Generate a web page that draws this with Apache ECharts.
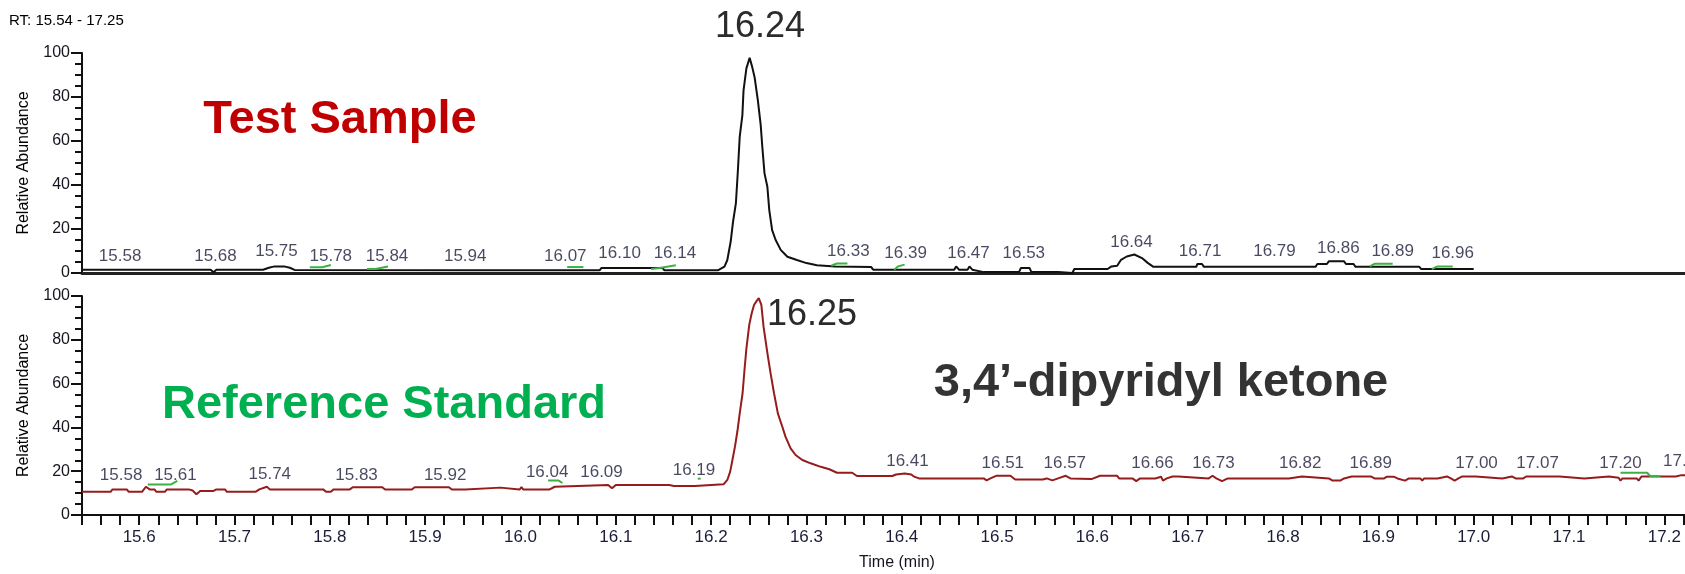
<!DOCTYPE html>
<html>
<head>
<meta charset="utf-8">
<script src="https://cdn.jsdelivr.net/npm/echarts@6/dist/echarts.min.js"></script>
<style>
html,body{margin:0;padding:0;background:#fff;}
#chart{width:1685px;height:574px;}
</style>
</head>
<body>
<div id="chart"></div>
<script>
// ---------- data ----------
const xTickLabels = [15.6,15.7,15.8,15.9,16.0,16.1,16.2,16.3,16.4,16.5,16.6,16.7,16.8,16.9,17.0,17.1,17.2];
const yTickLabels = [0,20,40,60,80,100];

// Test sample trace (black)
const topRT = [15.54,15.675,15.678,15.681,15.730,15.736,15.742,15.752,15.758,15.763,15.95,16.083,16.085,16.149,16.151,16.207,
  16.214,16.217,16.2205,16.223,16.226,16.228,16.230,16.2328,16.234,16.237,16.2404,16.243,16.2456,16.249,16.252,16.2537,16.256,
  16.259,16.261,16.264,16.2677,16.273,16.280,16.290,16.300,16.311,16.330,16.368,16.370,16.455,16.457,16.460,16.469,16.471,16.474,
  16.486,16.523,16.525,16.534,16.536,16.564,16.566,16.579,16.581,16.616,16.620,16.626,16.630,16.636,16.644,16.652,16.658,16.664,
  16.709,16.710,16.715,16.717,16.834,16.836,16.846,16.848,16.864,16.866,16.874,16.876,16.943,16.945,17.0];
const topVal = [1.5,1.5,0.3,1.5,1.5,2.4,3.0,3.0,2.4,1.4,1.2,1.2,2.3,2.3,1.2,1.2,
  2.9,5.9,14.2,23.3,31.8,46,62,71.8,83,93,97.8,93.8,89,78.6,67.3,57.4,45.3,
  39.2,28.6,19.5,15,10.5,7.4,5.9,4.5,3.5,3.0,2.7,1.5,1.5,3.0,1.5,1.5,3.0,1.5,
  0.4,0.4,2.3,2.3,0.4,0.4,0,0,1.8,1.8,3.0,3.3,6.0,7.5,8.4,6.8,4.6,2.8,
  2.8,4.1,4.1,2.8,2.8,4.1,4.1,5.3,5.3,4.1,4.1,2.8,2.8,1.8,1.8];

// Reference standard trace (dark red)
const botRT = [15.540,15.570,15.572,15.587,15.589,15.603,15.607,15.611,15.616,15.618,15.627,15.629,15.652,15.656,15.660,15.664,
  15.678,15.681,15.690,15.692,15.722,15.726,15.734,15.737,15.793,15.796,15.801,15.804,15.821,15.824,15.855,15.858,15.886,15.889,
  15.925,15.928,15.942,15.944,15.979,15.981,15.999,16.001,16.003,16.020,16.021,16.023,16.030,16.032,16.036,16.038,16.092,16.096,
  16.100,16.156,16.158,16.161,16.183,16.185,16.213,16.217,16.220,16.222,16.225,16.2275,16.230,16.233,16.235,16.237,16.240,16.2425,
  16.245,16.248,16.250,16.2527,16.255,16.257,16.2596,16.2624,16.266,16.270,16.2747,16.278,16.2834,16.2886,16.2957,16.3044,16.315,
  16.324,16.332,16.348,16.353,16.390,16.394,16.403,16.410,16.413,16.418,16.443,16.445,16.448,16.486,16.489,16.493,16.499,16.514,
  16.519,16.548,16.552,16.558,16.564,16.572,16.577,16.599,16.608,16.626,16.628,16.642,16.646,16.650,16.666,16.668,16.672,16.674,
  16.678,16.684,16.690,16.692,16.722,16.726,16.730,16.736,16.742,16.770,16.772,16.776,16.806,16.808,16.820,16.822,16.848,16.852,
  16.860,16.864,16.872,16.892,16.896,16.906,16.909,16.916,16.920,16.928,16.932,16.944,16.946,16.948,16.962,16.964,16.972,16.976,
  16.980,16.984,16.988,17.002,17.004,17.030,17.032,17.040,17.044,17.052,17.055,17.090,17.092,17.116,17.118,17.142,17.144,17.152,
  17.154,17.156,17.171,17.173,17.176,17.212,17.218,17.25];
const botVal = [10.6,10.6,11.7,11.7,10.6,10.6,12.9,11.7,11.7,10.6,10.6,11.7,11.7,11.2,9.5,11.0,
  11.0,11.7,11.7,10.6,10.6,11.7,12.9,11.7,11.7,10.6,10.6,11.7,11.7,12.7,12.7,11.6,11.6,12.7,
  12.7,11.6,11.6,12.5,12.5,11.6,11.6,12.7,11.6,11.6,12.5,11.6,11.6,12.5,12.9,13.7,13.7,12.2,
  13.7,13.7,14.5,13.2,13.2,14.0,14.0,16.0,19.8,24.3,31.2,38,46.4,55.6,66.2,76,86.8,92,
  95.9,97.9,99,95.9,86,80,72.3,64.7,55.6,46.4,40.3,35.8,30.4,27.4,25.1,23.6,22.0,
  20.9,19.3,19.3,17.8,17.8,18.5,19.0,18.5,17.5,16.7,16.7,15.8,16.7,16.7,15.8,16.7,17.9,17.9,
  16.2,16.2,16.7,15.8,16.7,17.9,16.7,16.4,17.9,17.9,16.7,16.7,15.5,16.7,16.7,17.5,17.5,15.7,
  16.7,17.6,17.6,16.7,16.7,17.9,16.7,15.5,16.7,16.7,15.8,16.7,16.7,17.6,17.6,16.7,16.7,15.7,
  15.7,16.7,17.6,17.6,16.7,16.7,17.5,17.5,16.7,15.7,16.7,16.7,15.7,16.7,16.7,17.6,17.6,16.7,
  15.7,16.7,17.6,17.6,16.7,16.7,17.6,17.6,16.7,16.7,17.6,17.6,16.7,16.7,17.6,17.6,17.0,17.0,
  15.7,16.7,16.7,15.7,17.6,17.6,18.2,18.2];

// Peak retention-time labels
const topPeakText = ['15.58','15.68','15.75','15.78','15.84','15.94','16.07','16.10','16.14','16.33','16.39','16.47','16.53','16.64','16.71','16.79','16.86','16.89','16.96'];
const topPeakRT = [15.580,15.680,15.744,15.801,15.860,15.942,16.047,16.104,16.162,16.344,16.404,16.470,16.528,16.641,16.713,16.791,16.858,16.915,16.978];
const topPeakH = [7.6,7.6,10,7.6,7.6,7.6,7.6,8.8,8.8,10,8.8,8.8,8.8,14.1,10,10,11.1,10,8.8];

const botPeakText = ['15.58','15.61','15.74','15.83','15.92','16.04','16.09','16.19','16.41','16.51','16.57','16.66','16.73','16.82','16.89','17.00','17.07','17.20','17.24'];
const botPeakRT = [15.581,15.638,15.737,15.828,15.921,16.028,16.085,16.182,16.406,16.506,16.571,16.663,16.727,16.818,16.892,17.003,17.067,17.154,17.221];
const botPeakH = [18.3,18.3,18.7,18.3,18.3,19.5,19.5,20.5,24.3,23.6,23.6,23.6,23.6,23.6,23.6,23.6,23.6,23.6,24.3];

// Green integration baseline marks
const topMarks = [
  [[15.779,2.6],[15.792,2.6],[15.801,3.6]],
  [[15.839,1.8],[15.848,1.8],[15.861,3.0]],
  [[16.049,2.7],[16.066,2.7]],
  [[16.137,1.8],[16.146,2.3],[16.163,3.5]],
  [[16.326,3.3],[16.332,4.3],[16.343,4.3]],
  [[16.392,1.5],[16.396,3.0],[16.403,3.8]],
  [[16.891,3.0],[16.896,4.2],[16.915,4.2]],
  [[16.956,1.8],[16.962,3.0],[16.978,3.0]]
];
const botMarks = [
  [[15.609,13.9],[15.633,13.9],[15.640,15.6]],
  [[16.029,15.7],[16.040,15.7],[16.044,14.6]],
  [[16.186,16.6],[16.189,16.6]],
  [[17.154,19.3],[17.182,19.3],[17.185,17.8],[17.196,17.8]]
];

// ---------- chart ----------
const FONT = "'Liberation Sans', Arial, sans-serif";
const zip = (a, b) => a.map((v, i) => [v, b[i]]);
const isMajor = v => xTickLabels.some(t => Math.abs(t - v) < 1e-6);

const chart = echarts.init(document.getElementById('chart'), null, {renderer: 'canvas'});

function yAxisCfg(gridIndex) {
  return {
    type: 'value', gridIndex, min: 0, max: 100, interval: 20,
    name: 'Relative Abundance', nameLocation: 'middle', nameGap: 50,
    nameTextStyle: {fontFamily: FONT, fontSize: 16, color: '#000'},
    axisLine: {show: true, lineStyle: {color: '#111', width: 2}},
    axisTick: {show: true, length: 11, lineStyle: {color: '#111', width: 2}},
    minorTick: {show: true, splitNumber: 4, length: 7, lineStyle: {color: '#111', width: 2}},
    axisLabel: {fontFamily: FONT, fontSize: 16, color: '#15151f', margin: 12,
      formatter: v => yTickLabels.includes(v) ? String(v) : ''},
    splitLine: {show: false}
  };
}

function labelSeries(xi, rts, hs, texts) {
  return {type: 'scatter', xAxisIndex: xi, yAxisIndex: xi, data: zip(rts, hs), symbolSize: 0,
    itemStyle: {color: 'rgba(0,0,0,0)'}, silent: true, z: 4,
    label: {show: true, position: 'inside', fontFamily: FONT, fontSize: 17, color: '#1a1c38',
      formatter: p => texts[p.dataIndex]}};
}

const series = [
  {type: 'line', xAxisIndex: 0, yAxisIndex: 0, data: zip(topRT, topVal), symbol: 'none',
   lineStyle: {color: '#111', width: 2}, clip: true, z: 3},
  {type: 'line', xAxisIndex: 1, yAxisIndex: 1, data: zip(botRT, botVal), symbol: 'none',
   lineStyle: {color: '#961c1c', width: 2}, clip: true, z: 3},
  labelSeries(0, topPeakRT, topPeakH, topPeakText),
  labelSeries(1, botPeakRT, botPeakH, botPeakText)
];
topMarks.forEach(m => series.push({type: 'line', xAxisIndex: 0, yAxisIndex: 0, data: m, symbol: 'none',
  lineStyle: {color: '#3cb043', width: 2}, z: 5, silent: true}));
botMarks.forEach(m => series.push({type: 'line', xAxisIndex: 1, yAxisIndex: 1, data: m, symbol: 'none',
  lineStyle: {color: '#3cb043', width: 2}, z: 5, silent: true}));

const option = {
  animation: false,
  backgroundColor: '#fff',
  grid: [
    {left: 82, right: -27, top: 53, height: 220, outerBoundsMode: 'none'},
    {left: 82, right: -27, top: 296, height: 219, outerBoundsMode: 'none'}
  ],
  xAxis: [
    {type: 'value', gridIndex: 0, min: 15.54, max: 17.25, interval: 0.02,
     axisLine: {show: true, onZero: false, lineStyle: {color: '#222', width: 3}},
     axisTick: {show: false}, axisLabel: {show: false}, splitLine: {show: false}},
    {type: 'value', gridIndex: 1, min: 15.54, max: 17.25, interval: 0.02,
     name: 'Time (min)', nameLocation: 'middle', nameGap: 40,
     nameTextStyle: {fontFamily: FONT, fontSize: 16, color: '#15151f'},
     axisLine: {show: true, onZero: false, lineStyle: {color: '#111', width: 2}},
     axisTick: {show: true, length: 10, lineStyle: {color: '#111', width: 2}},
     axisLabel: {fontFamily: FONT, fontSize: 17, color: '#1a1c38', margin: 14,
       showMinLabel: true, showMaxLabel: true,
       formatter: v => isMajor(v) ? v.toFixed(1) : ''},
     splitLine: {show: false}}
  ],
  yAxis: [yAxisCfg(0), yAxisCfg(1)],
  series,
  graphic: [
    {type: 'text', left: 9, top: 13, style: {
      text: '{a|RT:} {b|15.54 - 17.25}', font: '15px ' + FONT,
      rich: {a: {fontFamily: FONT, fontSize: 15, color: '#222'}, b: {fontFamily: FONT, fontSize: 15, color: '#2e2ea8'}}}},
    {type: 'text', x: 760, y: 27, style: {text: '16.24', font: '36px ' + FONT, fill: '#2b2b2b', align: 'center', verticalAlign: 'middle'}},
    {type: 'text', x: 812, y: 315, style: {text: '16.25', font: '36px ' + FONT, fill: '#2b2b2b', align: 'center', verticalAlign: 'middle'}},
    {type: 'text', x: 340, y: 120, style: {text: 'Test Sample', font: 'bold 47px ' + FONT, fill: '#c00000', align: 'center', verticalAlign: 'middle'}},
    {type: 'text', x: 384, y: 405, style: {text: 'Reference Standard', font: 'bold 47px ' + FONT, fill: '#00b050', align: 'center', verticalAlign: 'middle'}},
    {type: 'text', x: 1161, y: 383, style: {text: '3,4’-dipyridyl ketone', font: 'bold 47px ' + FONT, fill: '#333333', align: 'center', verticalAlign: 'middle'}}
  ]
};
chart.setOption(option);
</script>
</body>
</html>
